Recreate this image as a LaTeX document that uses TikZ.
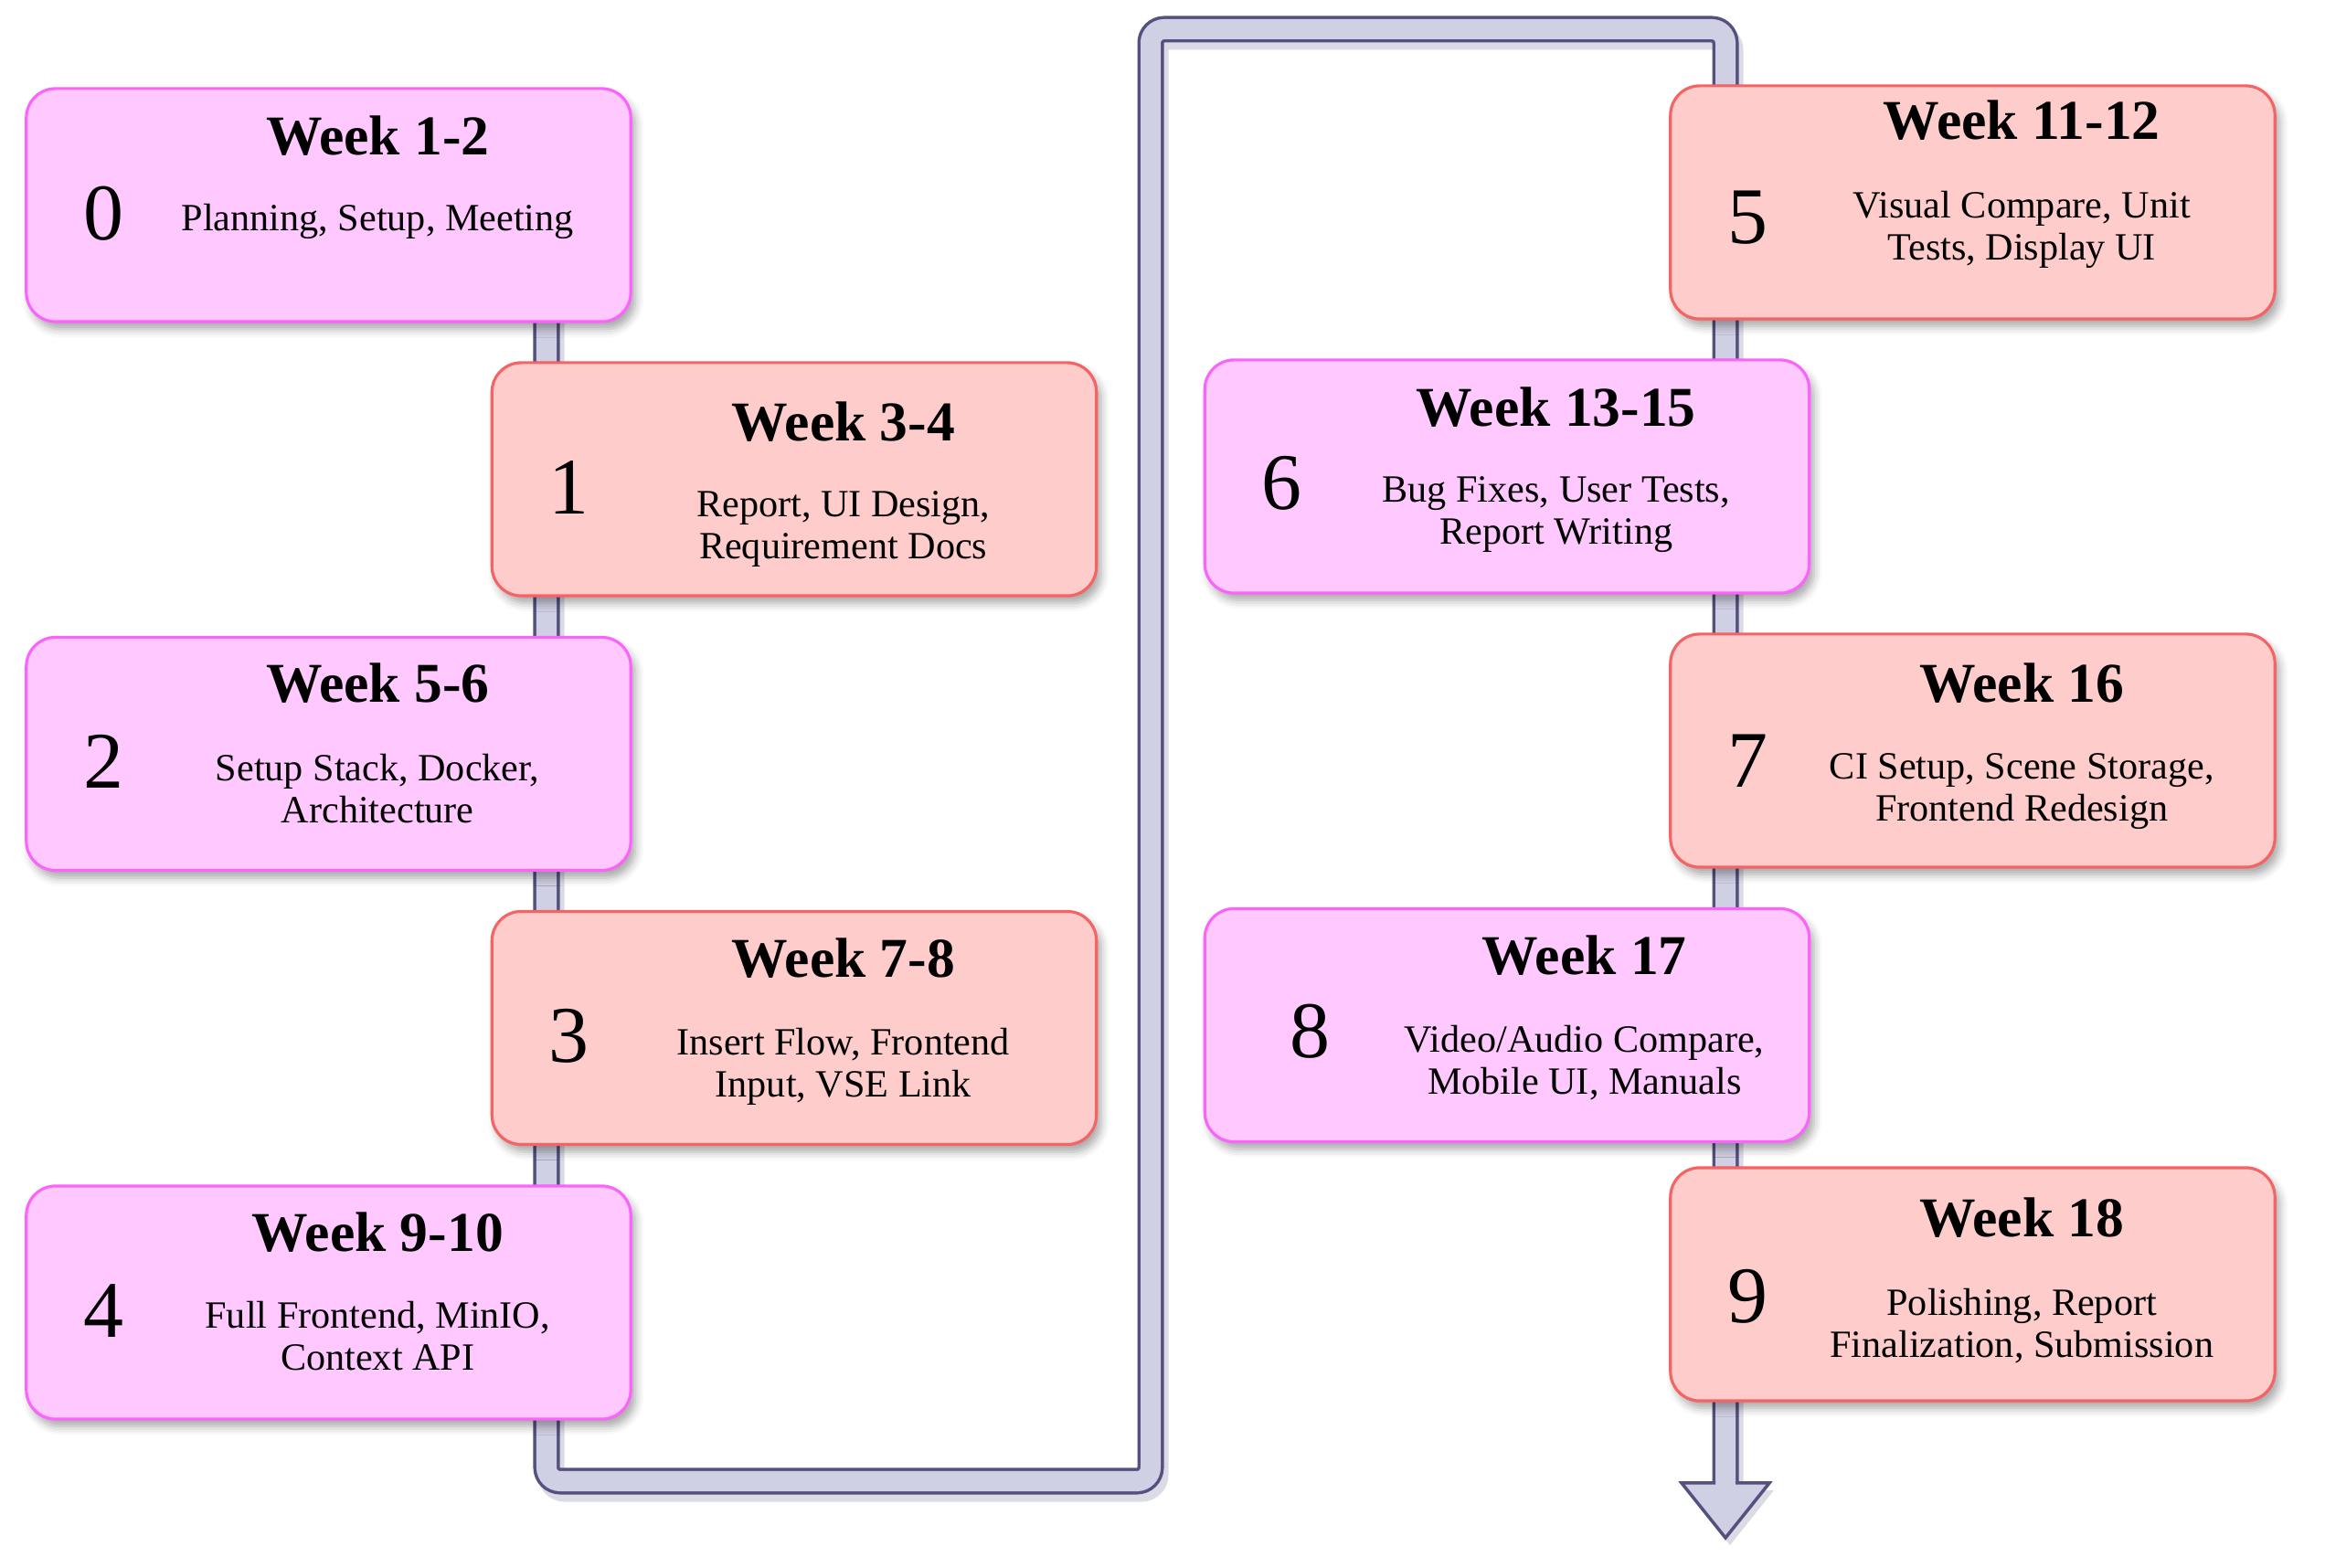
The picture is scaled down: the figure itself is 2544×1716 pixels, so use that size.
\documentclass[tikz,border=0pt]{standalone}
\usepackage{fontspec}
\setmainfont{Liberation Serif}
\usetikzlibrary{calc,shadows,shadows.blur}
\usepackage{xcolor}
\definecolor{wkpink}{RGB}{255,200,255}
\definecolor{wkpinkline}{RGB}{250,100,250}
\definecolor{wksalmon}{RGB}{255,204,204}
\definecolor{wksalmonline}{RGB}{245,100,100}
\definecolor{pipefill}{RGB}{208,208,228}
\definecolor{pipeline}{RGB}{84,80,128}
\definecolor{shadecol}{RGB}{110,110,150}
\tikzset{
    week/.style={
        draw=#1line,line width=0.9pt,rounded corners=0.32cm,fill=#1,
        minimum width=6.61cm,minimum height=2.55cm,
        blur shadow={shadow xshift=0.05cm,shadow yshift=-0.08cm,
            shadow blur radius=0.09cm,shadow opacity=35}
    },
    week/.default=wkpink,
    weeknum/.style={font=\fontsize{25}{28}\selectfont,inner sep=0pt},
    weektitle/.style={font=\fontsize{17.5}{20}\selectfont\bfseries,inner sep=0pt},
    weekdesc/.style={
        font=\fontsize{12}{13}\selectfont,align=center,inner sep=0pt,anchor=north
    },
    pipe/.style={
        line width=0.035cm,draw=pipeline,double=pipefill,double distance=0.22cm,
        rounded corners=0.15cm
    },
    pipeshadow/.style={
        line width=0.29cm,draw=shadecol,opacity=.25,rounded corners=0.15cm,
        transform canvas={shift={(0.05cm,-0.08cm)}}
    }
}

\begin{document}
\begin{tikzpicture}[x=0.01cm,y=-0.01cm]
\useasboundingbox (0,0) rectangle (2544,1716);

% the winding track behind the cards
\coordinate (pipestart) at (598,300);
\coordinate (turnA) at (1259,1621);
\coordinate (turnB) at (1888,32);
\coordinate (pipeend) at (1888,1623);

\draw[pipeshadow](pipestart)|-(turnA)|-(turnB)--(pipeend);
\fill[shadecol,opacity=.25,transform canvas={shift={(0.05cm,-0.08cm)}}]
($(pipeend)+(-48,0)$)--($(pipeend)+(0,60)$)--($(pipeend)+(48,0)$)--cycle;
\draw[pipe](pipestart)|-(turnA)|-(turnB)--(pipeend);
\filldraw[fill=pipefill,draw=pipeline,line width=0.035cm,line join=miter]
($(pipeend)+(-12.75,-2)$)--($(pipeend)+(-12.75,0)$)--($(pipeend)+(-48,0)$)
--($(pipeend)+(0,60)$)--($(pipeend)+(48,0)$)--($(pipeend)+(12.75,0)$)
--($(pipeend)+(12.75,-2)$);

% left side
\node[week=wkpink](w0) at (359.5,224.5){};
\node[weeknum](w0n) at ($(w0.north west)+(86,138)$){0};
\node[weektitle](w0t) at ($(w0.north west)+(386,53)$){Week 1-2};
\node[weekdesc](w0d) at ($(w0.north west)+(386,127)$){Planning, Setup, Meeting};

\node[week=wksalmon](w1) at (869,524.5){};
\node[weeknum](w1n) at ($(w1.north west)+(86,138)$){1};
\node[weektitle](w1t) at ($(w1.north west)+(386,66)$){Week 3-4};
\node[weekdesc](w1d) at ($(w1.north west)+(386,142)$){Report, UI Design,\\Requirement Docs};

\node[week=wkpink](w2) at (359.5,825){};
\node[weeknum](w2n) at ($(w2.north west)+(86,138)$){2};
\node[weektitle](w2t) at ($(w2.north west)+(386,52)$){Week 5-6};
\node[weekdesc](w2d) at ($(w2.north west)+(386,129)$){Setup Stack, Docker,\\Architecture};

\node[week=wksalmon](w3) at (869,1125){};
\node[weeknum](w3n) at ($(w3.north west)+(86,138)$){3};
\node[weektitle](w3t) at ($(w3.north west)+(386,53)$){Week 7-8};
\node[weekdesc](w3d) at ($(w3.north west)+(386,129)$){Insert Flow, Frontend\\Input, VSE Link};

\node[week=wkpink](w4) at (359.5,1425.5){};
\node[weeknum](w4n) at ($(w4.north west)+(86,138)$){4};
\node[weektitle](w4t) at ($(w4.north west)+(386,52)$){Week 9-10};
\node[weekdesc](w4d) at ($(w4.north west)+(386,127)$){Full Frontend, MinIO,\\Context API};

% right side
\node[week=wksalmon](w5) at (2158.5,221.5){};
\node[weeknum](w5n) at ($(w5.north west)+(86,146)$){5};
\node[weektitle](w5t) at ($(w5.north west)+(386,39)$){Week 11-12};
\node[weekdesc](w5d) at ($(w5.north west)+(386,116)$){Visual Compare, Unit\\Tests, Display UI};

\node[week=wkpink](w6) at (1649,521.5){};
\node[weeknum](w6n) at ($(w6.north west)+(86,136)$){6};
\node[weektitle](w6t) at ($(w6.north west)+(386,53)$){Week 13-15};
\node[weekdesc](w6d) at ($(w6.north west)+(386,129)$){Bug Fixes, User Tests,\\Report Writing};

\node[week=wksalmon](w7) at (2158.5,821.5){};
\node[weeknum](w7n) at ($(w7.north west)+(86,140)$){7};
\node[weektitle](w7t) at ($(w7.north west)+(386,55)$){Week 16};
\node[weekdesc](w7d) at ($(w7.north west)+(386,132)$){CI Setup, Scene Storage,\\Frontend Redesign};

\node[week=wkpink](w8) at (1649,1122){};
\node[weeknum](w8n) at ($(w8.north west)+(117,136)$){8};
\node[weektitle](w8t) at ($(w8.north west)+(417,53)$){Week 17};
\node[weekdesc](w8d) at ($(w8.north west)+(417,129)$){Video/Audio Compare,\\Mobile UI, Manuals};

\node[week=wksalmon](w9) at (2158.5,1405.5){};
\node[weeknum](w9n) at ($(w9.north west)+(86,142)$){9};
\node[weektitle](w9t) at ($(w9.north west)+(386,56)$){Week 18};
\node[weekdesc](w9d) at ($(w9.north west)+(386,133)$){Polishing, Report\\Finalization, Submission};

\end{tikzpicture}
\end{document}
